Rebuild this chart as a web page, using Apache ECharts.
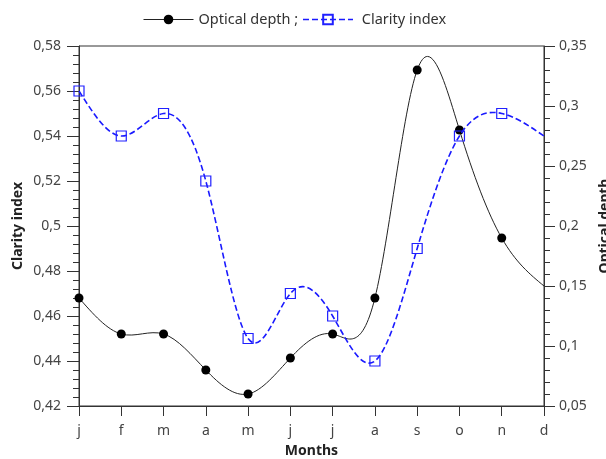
<!DOCTYPE html>
<html>
<head>
<meta charset="utf-8">
<script src="https://cdn.jsdelivr.net/npm/echarts@6/dist/echarts.min.js"></script>
<style>
  html, body { margin: 0; padding: 0; background: #fff; }
  #chart { width: 606px; height: 459px; }
</style>
</head>
<body>
<div id="chart"></div>
<script>
// Monthly values
const months = ['j', 'f', 'm', 'a', 'm', 'j', 'j', 'a', 's', 'o', 'n', 'd'];
const opticalDepth = [0.14, 0.11, 0.11, 0.08, 0.06, 0.09, 0.11, 0.14, 0.33, 0.28, 0.19, 0.15];
const clarityIndex = [0.56, 0.54, 0.55, 0.52, 0.45, 0.47, 0.46, 0.44, 0.49, 0.54, 0.55, 0.54];
// December closes the curves without a marker
const markerless = [11];

const FONT = 'Noto Sans';
const AXIS = '#333';
const TEXT = '#444';
const BLACK_LINE = '#222';
const BLUE_LINE = '#1a1aff';

const fmt = v => String(Math.round(v * 100) / 100).replace('.', ',');

const toItems = arr => arr.map((v, i) =>
  markerless.includes(i) ? { value: v, symbol: 'none' } : v);

// Natural cubic spline through pixel points (uniform x spacing), as SVG path data
function splinePath(pts) {
  const n = pts.length;
  const h = pts[1][0] - pts[0][0];
  const M = new Array(n).fill(0);
  if (n > 2) {
    const m = n - 2;
    const cp = new Array(m), dp = new Array(m);
    for (let k = 0; k < m; k++) {
      const i = k + 1;
      const rhs = 6 * (pts[i + 1][1] - 2 * pts[i][1] + pts[i - 1][1]) / (h * h);
      if (k === 0) { cp[k] = 1 / 4; dp[k] = rhs / 4; }
      else {
        const den = 4 - cp[k - 1];
        cp[k] = 1 / den;
        dp[k] = (rhs - dp[k - 1]) / den;
      }
    }
    const sol = new Array(m);
    sol[m - 1] = dp[m - 1];
    for (let k = m - 2; k >= 0; k--) sol[k] = dp[k] - cp[k] * sol[k + 1];
    for (let k = 0; k < m; k++) M[k + 1] = sol[k];
  }
  let d = 'M' + pts[0][0] + ' ' + pts[0][1];
  for (let i = 0; i < n - 1; i++) {
    const [x0, y0] = pts[i];
    const [x1, y1] = pts[i + 1];
    const s = (y1 - y0) / h;
    const m0 = s - h * (2 * M[i] + M[i + 1]) / 6;
    const m1 = s + h * (M[i] + 2 * M[i + 1]) / 6;
    d += ' C' + (x0 + h / 3) + ' ' + (y0 + m0 * h / 3) + ' ' +
         (x1 - h / 3) + ' ' + (y1 - m1 * h / 3) + ' ' + x1 + ' ' + y1;
  }
  return d;
}

// Custom series that strokes a spline through a whole value array
function curveSeries(values, yAxisIndex, style, z) {
  return {
    type: 'custom',
    yAxisIndex: yAxisIndex,
    data: values.map((v, i) => [i, v]),
    encode: { x: 0, y: 1 },
    silent: true,
    z: z,
    renderItem: (params, api) => {
      if (params.dataIndex !== 0) return null;
      const pts = values.map((v, i) => api.coord([i, v]));
      return {
        type: 'path',
        shape: { pathData: splinePath(pts) },
        style: Object.assign({ fill: 'none' }, style)
      };
    }
  };
}

const chart = echarts.init(document.getElementById('chart'), null, { renderer: 'canvas' });

chart.setOption({
  animation: false,
  textStyle: { fontFamily: FONT },
  legend: {
    top: 12,
    left: 143,
    padding: 0,
    itemWidth: 50,
    itemHeight: 12,
    itemGap: 4,
    textStyle: { fontFamily: FONT, fontSize: 14.5, color: '#333' },
    formatter: name => name === 'Optical depth' ? name + ' ;' : ' ' + name,
    data: [
      { name: 'Optical depth', lineStyle: { color: BLACK_LINE, width: 1, opacity: 1 } },
      { name: 'Clarity index', lineStyle: { color: BLUE_LINE, width: 1.6, type: [6, 3], opacity: 1 } }
    ]
  },
  grid: {
    left: 79, right: 62, top: 46, bottom: 53,
    outerBoundsMode: 'none',
    containLabel: false,
    show: true, borderColor: AXIS, borderWidth: 1
  },
  xAxis: {
    type: 'category',
    data: months,
    boundaryGap: false,
    name: 'Months',
    nameLocation: 'middle',
    nameGap: 38,
    nameTextStyle: { fontFamily: FONT, fontSize: 14, fontWeight: 'bold', color: '#222' },
    axisLine: { lineStyle: { color: AXIS } },
    axisTick: { show: true, length: 10, interval: 0, lineStyle: { color: AXIS } },
    axisLabel: { interval: 0, margin: 18, fontFamily: FONT, fontSize: 14, color: TEXT },
    splitLine: { show: false }
  },
  yAxis: [
    {
      type: 'value',
      position: 'left',
      min: 0.42, max: 0.58, interval: 0.02,
      name: 'Clarity index',
      nameLocation: 'middle',
      nameGap: 54,
      nameMoveOverlap: false,
      nameTextStyle: { fontFamily: FONT, fontSize: 14, fontWeight: 'bold', color: '#222' },
      axisLine: { show: true, lineStyle: { color: AXIS } },
      axisTick: { show: true, length: 12, lineStyle: { color: AXIS } },
      minorTick: { show: true, splitNumber: 5, length: 6, lineStyle: { color: AXIS } },
      axisLabel: { margin: 18, fontFamily: FONT, fontSize: 14, color: TEXT, formatter: fmt },
      splitLine: { show: false },
      minorSplitLine: { show: false }
    },
    {
      type: 'value',
      position: 'right',
      min: 0.05, max: 0.35, interval: 0.05,
      name: 'Optical depth',
      nameLocation: 'middle',
      nameGap: 54,
      nameTextStyle: { fontFamily: FONT, fontSize: 14, fontWeight: 'bold', color: '#222' },
      axisLine: { show: true, lineStyle: { color: AXIS } },
      axisTick: { show: true, length: 11, lineStyle: { color: AXIS } },
      minorTick: { show: true, splitNumber: 5, length: 6, lineStyle: { color: AXIS } },
      axisLabel: { margin: 15, fontFamily: FONT, fontSize: 14, color: TEXT, formatter: fmt },
      splitLine: { show: false },
      minorSplitLine: { show: false }
    }
  ],
  series: [
    {
      name: 'Optical depth',
      type: 'line',
      yAxisIndex: 1,
      data: toItems(opticalDepth),
      symbol: 'circle',
      symbolSize: 9,
      lineStyle: { color: BLACK_LINE, width: 1, opacity: 0 },
      itemStyle: { color: '#000' },
      z: 3
    },
    {
      name: 'Clarity index',
      type: 'line',
      yAxisIndex: 0,
      data: toItems(clarityIndex),
      symbol: 'rect',
      symbolSize: 10,
      lineStyle: { color: BLUE_LINE, width: 1.6, type: [6, 3], opacity: 0 },
      itemStyle: { color: 'rgba(255,255,255,0)', borderColor: '#2020ff', borderWidth: 1.2 },
      z: 5
    },
    curveSeries(opticalDepth, 1, { stroke: BLACK_LINE, lineWidth: 1 }, 2),
    curveSeries(clarityIndex, 0, { stroke: BLUE_LINE, lineWidth: 1.6, lineDash: [6, 3] }, 4)
  ]
});
</script>
</body>
</html>
